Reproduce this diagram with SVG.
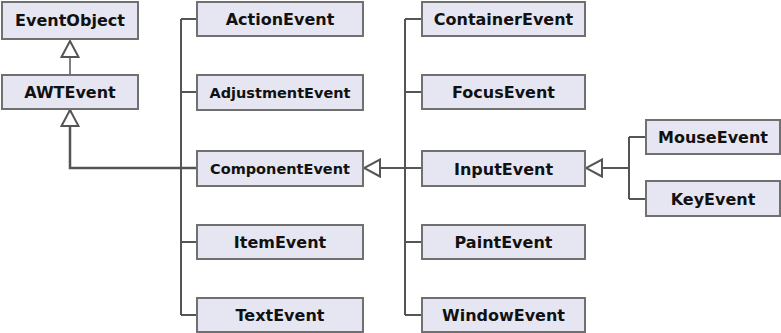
<svg xmlns="http://www.w3.org/2000/svg" width="781" height="333" viewBox="0 0 781 333">
<style>
.box{fill:#e6e6f2;stroke:#707070;stroke-width:2}
.lbl{font-family:"DejaVu Sans","Verdana",sans-serif;font-weight:bold;font-size:16px;fill:#111;text-anchor:middle}
.sm{font-size:14.5px}
.c{fill:none;stroke:#555;stroke-width:2}
.thin{stroke-width:1.5}
</style>
<defs>
<marker id="tri" markerUnits="userSpaceOnUse" viewBox="0 0 18 20" markerWidth="18" markerHeight="20" refX="17" refY="10" orient="auto">
<path d="M1,1.5 L17,10 L1,18.5 Z" fill="#fff" stroke="#555" stroke-width="2"/>
</marker>
</defs>
<rect width="781" height="333" fill="#fff"/>
<g id="connectors">
<path class="c thin" d="M70 75 V41" marker-end="url(#tri)"/>
<path class="c" d="M197 168 H70 V110" marker-end="url(#tri)" style="stroke-width:2.5"/>
<path class="c" d="M181 19 V315 M181 19 H197 M181 92 H197 M181 242 H197 M181 315 H197"/>
<path class="c" d="M405 168 H364" marker-end="url(#tri)"/>
<path class="c" d="M405 19 V315 M405 19 H422 M405 92 H422 M405 168 H422 M405 242 H422 M405 315 H422"/>
<path class="c" d="M629 168 H586" marker-end="url(#tri)"/>
<path class="c" d="M629 137 V199 M629 137 H646 M629 199 H646"/>
</g>
<g id="EventObject"><rect class="box" x="2" y="2" width="136" height="37"/><text class="lbl" x="70" y="26">EventObject</text></g>
<g id="AWTEvent"><rect class="box" x="2" y="75" width="136" height="34"/><text class="lbl" x="70" y="98">AWTEvent</text></g>
<g id="ActionEvent"><rect class="box" x="197" y="2" width="166" height="34"/><text class="lbl" x="280" y="25">ActionEvent</text></g>
<g id="AdjustmentEvent"><rect class="box" x="197" y="75" width="166" height="35"/><text class="lbl sm" x="280" y="98">AdjustmentEvent</text></g>
<g id="ComponentEvent"><rect class="box" x="197" y="151" width="166" height="35"/><text class="lbl sm" x="280" y="174">ComponentEvent</text></g>
<g id="ItemEvent"><rect class="box" x="197" y="225" width="166" height="34"/><text class="lbl" x="280" y="248">ItemEvent</text></g>
<g id="TextEvent"><rect class="box" x="197" y="298" width="166" height="34"/><text class="lbl" x="280" y="321">TextEvent</text></g>
<g id="ContainerEvent"><rect class="box" x="422" y="2" width="163" height="34"/><text class="lbl" x="503.5" y="25">ContainerEvent</text></g>
<g id="FocusEvent"><rect class="box" x="422" y="75" width="163" height="34"/><text class="lbl" x="503.5" y="98">FocusEvent</text></g>
<g id="InputEvent"><rect class="box" x="422" y="151" width="163" height="35"/><text class="lbl" x="503.5" y="174.5">InputEvent</text></g>
<g id="PaintEvent"><rect class="box" x="422" y="225" width="163" height="34"/><text class="lbl" x="503.5" y="248">PaintEvent</text></g>
<g id="WindowEvent"><rect class="box" x="422" y="298" width="163" height="34"/><text class="lbl" x="503.5" y="321">WindowEvent</text></g>
<g id="MouseEvent"><rect class="box" x="646" y="120" width="134" height="34"/><text class="lbl" x="713" y="143">MouseEvent</text></g>
<g id="KeyEvent"><rect class="box" x="646" y="181" width="134" height="35"/><text class="lbl" x="713" y="204.5">KeyEvent</text></g>
</svg>
